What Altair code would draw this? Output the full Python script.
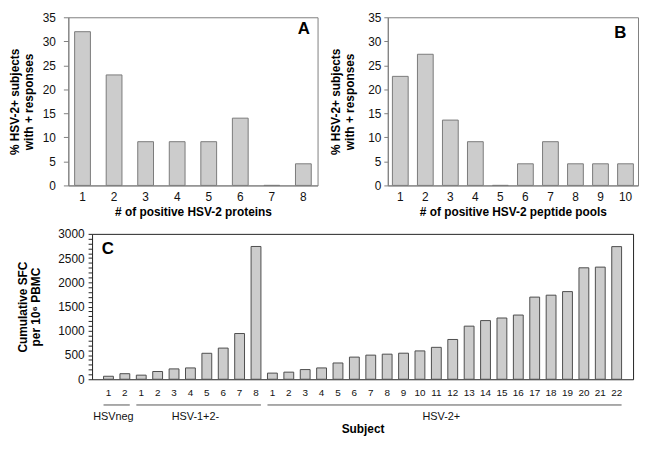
import altair as alt
import pandas as pd

FONT = "Liberation Sans"

# Panel A
a_cats = [1, 2, 3, 4, 5, 6, 7, 8]
a_vals = [32.0, 23.0, 9.1, 9.1, 9.1, 14.0, 0.0, 4.5]

# Panel B
b_cats = [1, 2, 3, 4, 5, 6, 7, 8, 9, 10]
b_vals = [22.7, 27.3, 13.6, 9.1, 0.0, 4.5, 9.1, 4.5, 4.5, 4.5]

# Panel C
c_groups = ["HSVneg", "HSV-1+2-", "HSV-2+"]
c_neg = [62, 115]
c_12 = [85, 160, 214, 234, 536, 643, 944, 2740]
c_2p = [127, 147, 200, 234, 336, 457, 498, 518, 538, 585, 659, 821,
        1096, 1211, 1264, 1325, 1695, 1735, 1809, 2300, 2314, 2737]

y_ticks_ab = [0, 5, 10, 15, 20, 25, 30, 35]
y_title_ab = ["% HSV-2+ subjects", "with + responses"]
y_title_c = ["Cumulative SFC", "per 10\u2076 PBMC"]

GRAY = "#808080"
DARK = "#222222"


def panel(cats, vals, xtitle, letter, w, h, pi, po, tick, lpad, tpad, lx, ly):
    df = pd.DataFrame({"cat": cats, "pct": vals})
    bars = alt.Chart(df).mark_bar(fill="#cccccc", stroke="#7a7a7a", strokeWidth=1).encode(
        x=alt.X("cat:O", title=xtitle,
                scale=alt.Scale(paddingInner=pi, paddingOuter=po),
                axis=alt.Axis(labelAngle=0, ticks=False, labelPadding=6, titlePadding=4,
                              domainColor=GRAY)),
        y=alt.Y("pct:Q", title=y_title_ab,
                scale=alt.Scale(domain=[0, 35], nice=False),
                axis=alt.Axis(values=y_ticks_ab, tickSize=tick, labelPadding=lpad,
                              titlePadding=tpad, tickColor=GRAY, domainColor=GRAY)),
    )
    lab = alt.Chart(pd.DataFrame({"t": [letter]})).mark_text(
        font=FONT, fontSize=17, fontWeight="bold", color="#000", align="center", baseline="middle"
    ).encode(text="t:N", x=alt.value(lx), y=alt.value(ly))
    return alt.layer(bars, lab).properties(
        width=w, height=h, view=alt.ViewBackground(stroke=GRAY, strokeWidth=1))


A = panel(a_cats, a_vals, "# of positive HSV-2 proteins", "A", 252, 170, 0.5, 0.2, 5, 8, 7, 238, 12)
B = panel(b_cats, b_vals, "# of positive HSV-2 peptide pools", "B", 253, 170, 0.37, 0.185, 4, 3, 11, 235, 16)

# Panel C data table
keys, vals = [], []
for g, arr in zip(["neg", "h12", "h2p"], [c_neg, c_12, c_2p]):
    for i, v in enumerate(arr):
        keys.append(f"{g}|{i + 1}")
        vals.append(v)
df_c = pd.DataFrame({"key": keys, "sfc": vals})

C_W, C_H, C_SHIFT = 571, 147, 24
xscale = alt.Scale(domain=keys, range=[C_SHIFT, C_W], paddingInner=0.4, paddingOuter=0.7)
yscale = alt.Scale(domain=[0, 3000], nice=False)

bars_c = alt.Chart(df_c).mark_bar(fill="#cccccc", stroke="#4d4d4d", strokeWidth=1).encode(
    x=alt.X("key:N", sort=None, scale=xscale,
            axis=alt.Axis(title="Subject", labelExpr="split(datum.value, '|')[1]", labelAngle=0,
                          ticks=False, labelPadding=8, titlePadding=27, labelFontSize=10,
                          domainColor=DARK)),
    y=alt.Y("sfc:Q", title=y_title_c, scale=yscale,
            axis=alt.Axis(values=list(range(0, 3001, 100)), format="d", offset=-C_SHIFT,
                          labelExpr="datum.value % 500 === 0 ? datum.label : ''",
                          labelOverlap=False, tickSize=4, labelPadding=4, titlePadding=15,
                          tickColor=DARK, domainColor=DARK)),
)

# top and right frame lines drawn as label-less axes
frame_c = alt.Chart(df_c).mark_bar(opacity=0).encode(
    x=alt.X("key:N", sort=None, scale=xscale,
            axis=alt.Axis(orient="top", labels=False, ticks=False, title="", domainColor=DARK)),
    y=alt.Y("sfc:Q", scale=yscale,
            axis=alt.Axis(orient="right", labels=False, ticks=False, title="", domainColor=DARK)),
)

df_g = pd.DataFrame({
    "group": c_groups,
    "start": ["neg|1", "h12|1", "h2p|1"],
    "end": ["neg|2", "h12|8", "h2p|22"],
    "anchor": ["neg|1", "h12|4", "h2p|11"],
})

rules_c = alt.Chart(df_g).mark_rule(color="#555555", strokeWidth=1).encode(
    x=alt.X("start:N", bandPosition=0, scale=xscale, axis=None),
    x2=alt.X2("end", bandPosition=1),
    y=alt.value(C_H + 26),
)
glab_c = alt.Chart(df_g).mark_text(font=FONT, fontSize=11, color="#111", baseline="middle").encode(
    x=alt.X("anchor:N", bandPosition=1, scale=xscale, axis=None),
    y=alt.value(C_H + 38),
    text="group:N",
)
letter_c = alt.Chart(pd.DataFrame({"t": ["C"]})).mark_text(
    font=FONT, fontSize=17, fontWeight="bold", color="#000", align="center", baseline="middle"
).encode(text="t:N", x=alt.value(C_SHIFT + 16), y=alt.value(15))

C = alt.layer(bars_c, frame_c, rules_c, glab_c, letter_c).resolve_axis(
    x="independent", y="independent"
).properties(width=C_W, height=C_H, view=alt.ViewBackground(stroke="transparent"))

chart = alt.vconcat(
    alt.hconcat(A, B, spacing=11),
    C,
    spacing=9,
).properties(padding=0, background="white").configure_axis(
    labelFont=FONT, titleFont=FONT, labelFontSize=12, titleFontSize=12,
    titleFontWeight="bold", labelColor="#111111", titleColor="#000000", grid=False,
)

chart.save("out.html", embed_options={"renderer": "svg", "actions": False})
